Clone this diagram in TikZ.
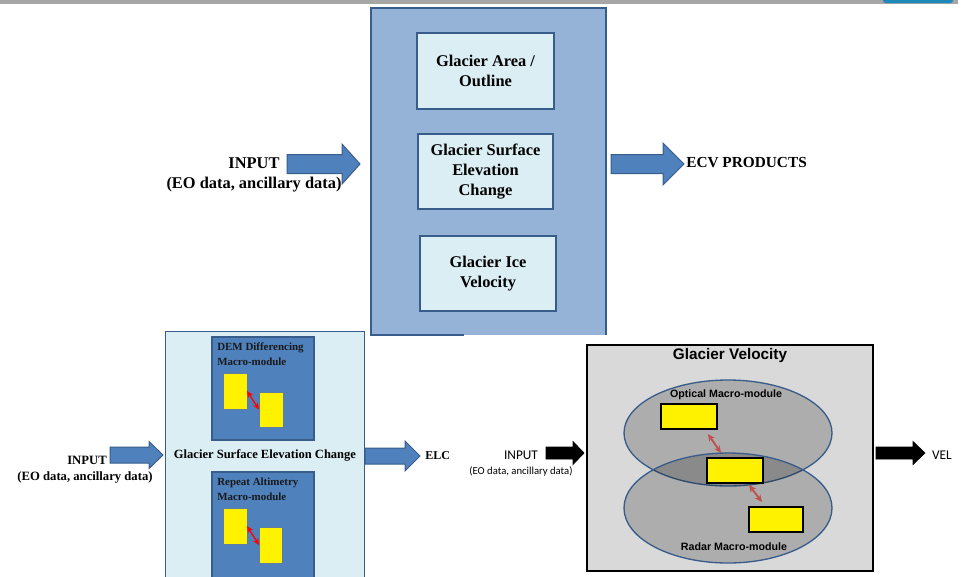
\documentclass[tikz,border=0pt]{standalone}
\usepackage{fontspec}
\setmainfont{Liberation Serif}
\newfontfamily\arialf{Liberation Sans}
\newfontfamily\calibf{Carlito}
\usetikzlibrary{fit,shapes.geometric,arrows.meta,calc}
\definecolor{dkblue}{HTML}{385D8A}
\definecolor{midblue}{HTML}{4F81BD}
\definecolor{paleblue}{HTML}{95B3D7}
\definecolor{lightcyan}{HTML}{DBEEF4}
\definecolor{arrred}{HTML}{C0504D}
\definecolor{boxgray}{HTML}{D9D9D9}
\definecolor{bargray}{HTML}{A6A6A6}
\definecolor{tabblue}{HTML}{1E88B8}
\newcommand{\blkarr}[7]{\draw[#1] (#2,#5-#6) -- (#3,#5-#6) -- (#3,#5-#7) -- (#4,#5) -- (#3,#5+#7) -- (#3,#5+#6) -- (#2,#5+#6) -- cycle;}
\begin{document}
\begin{tikzpicture}[x=0.75pt,y=-0.75pt,
  fitbox/.style={inner sep=0pt, outer sep=0pt},
  inbox/.style={fitbox, draw=dkblue, line width=1.5pt, fill=lightcyan},
  toptext/.style={align=center, inner sep=0pt, font=\bfseries\fontsize{12.3}{15}\selectfont},
  blueblk/.style={fill=midblue, draw=dkblue, line width=0.75pt},
  blackblk/.style={fill=black, draw=black, line width=0.5pt},
  macrobox/.style={fitbox, fill=midblue, draw=dkblue, line width=1pt},
  yrect/.style={fitbox, fill=yellow, draw=dkblue!80, line width=0.75pt},
  yrectb/.style={fitbox, fill=yellow, draw=black, line width=1.2pt},
  redarr/.style={draw=red, line width=1pt, {Stealth[length=5pt,width=4.5pt]}-{Stealth[length=5pt,width=4.5pt]}},
  brarr/.style={draw=arrred, line width=1.4pt, {Stealth[length=5.5pt,width=5pt]}-{Stealth[length=5.5pt,width=5pt]}},
  ell/.style={ellipse, draw=dkblue, line width=1pt, fill=black, fill opacity=0.2, draw opacity=1, inner sep=0pt, minimum width=156pt},
  sertxt/.style={inner sep=0pt, font=\bfseries\fontsize{9.5}{12}\selectfont},
  macrotxt/.style={inner sep=0pt, align=left, anchor=base west, font=\bfseries\fontsize{8.2}{11.25}\selectfont, text=black!90},
  sanstxt/.style={inner sep=0pt, font=\arialf\bfseries\fontsize{8}{10}\selectfont},
  calibtxt/.style={inner sep=0pt, font=\calibf\fontsize{10}{12}\selectfont}
]
\useasboundingbox (0,0) rectangle (966,576);
% top screen bar
\fill[bargray] (0,0) rectangle (958,4);
\fill[tabblue, rounded corners=2pt] (883,-4) rectangle (953,3);

% ===== top overview =====
\node[fitbox, fill=paleblue, fit={(371,8)(606,335)}] (main) {};
\draw[dkblue, line width=1.5pt] (464,335) -- (main.south west) -- (main.north west) -- (main.north east) -- (main.south east);

\node[inbox, fit={(417,33)(554,109)}] (area) {};
\node[toptext] (areaT) at (area.center) {Glacier Area /\\Outline};
\node[inbox, fit={(418,134)(553,209)}] (elev) {};
\node[toptext] (elevT) at (elev.center) {Glacier Surface\\Elevation\\Change};
\node[inbox, fit={(420,236)(556,311)}] (vel) {};
\node[toptext] (velT) at (vel.center) {Glacier Ice\\Velocity};

\blkarr{blueblk}{287}{342}{360}{164}{9.5}{20}
\blkarr{blueblk}{611}{663}{684}{164}{9.5}{21}

\node[toptext] (inA) at (254,163) {INPUT};
\node[toptext] (inB) at (254,185) {(EO data, ancillary data)};
\node[inner sep=0pt, anchor=west, font=\bfseries\fontsize{11.5}{14}\selectfont] (ecv) at (686,163) {ECV PRODUCTS};

% ===== bottom left: elevation change =====
\node[fitbox, fill=lightcyan, draw=dkblue, line width=0.75pt, fit={(165,331)(364,582)}] (gsec) {};
\node[macrobox, fit={(212,337)(314,440)}] (dem) {};
\node[macrotxt] (demT) at (217,365) {DEM Differencing\\Macro-module};
\node[yrect, fit={(223,373)(247,409)}] (y1) {};
\node[yrect, fit={(259,392)(283,427)}] (y2) {};
\draw[redarr] (y1.east) -- (y2.west);

\node[macrobox, fit={(212,472)(314,582)}] (rep) {};
\node[macrotxt] (repT) at (217,500) {Repeat Altimetry\\Macro-module};
\node[yrect, fit={(223,508)(247,544)}] (y3) {};
\node[yrect, fit={(259,527)(282,563)}] (y4) {};
\draw[redarr] (y3.east) -- (y4.west);

\node[inner sep=0pt, font=\bfseries\fontsize{9.4}{12}\selectfont] (gsecT) at (265,455) {Glacier Surface Elevation Change};

\blkarr{blueblk}{110}{149}{163}{455}{8}{13.5}
\node[sertxt] (in2A) at (87,460) {INPUT};
\node[sertxt] (in2B) at (85,477) {(EO data, ancillary data)};

\blkarr{blueblk}{365}{405}{420}{456}{8}{15}
\node[inner sep=0pt, anchor=west, font=\bfseries\fontsize{9}{11}\selectfont] (elc) at (425,456) {ELC};

% ===== bottom right: glacier velocity =====
\node[fitbox, fill=boxgray, draw=black, line width=1.2pt, fit={(587,345)(873,571)}] (gv) {};
\node[inner sep=0pt, font=\arialf\bfseries\fontsize{11.5}{14}\selectfont] (gvT) at (730,356) {Glacier Velocity};
\node[ell, minimum height=79.5pt] (opt) at (728,433) {};
\node[ell, minimum height=82.5pt] (rad) at (728,508) {};
\node[sanstxt] (optT) at (726,395) {Optical Macro-module};
\node[sanstxt] (radT) at (734,547) {Radar Macro-module};

\node[yrectb, fit={(661,404)(717,429)}] (r1) {};
\node[yrectb, fit={(707,458)(763,483)}] (r2) {};
\node[yrectb, fit={(749,507)(803,532)}] (r3) {};
\draw[brarr] ($(r1.south east)+(-9,5)$) -- ($(r2.north west)+(14,-5)$);
\draw[brarr] ($(r2.south east)+(-14,2)$) -- ($(r3.north west)+(13,-5)$);

\blkarr{blackblk}{546}{573}{584}{453}{6}{11.5}
\node[calibtxt] (in3A) at (521,455) {INPUT};
\node[inner sep=0pt, font=\calibf\fontsize{8}{10}\selectfont] (in3B) at (521,471) {(EO data, ancillary data)};

\blkarr{blackblk}{876}{913}{925}{453}{6}{11.5}
\node[calibtxt] (velout) at (942,455) {VEL};
\end{tikzpicture}
\end{document}
